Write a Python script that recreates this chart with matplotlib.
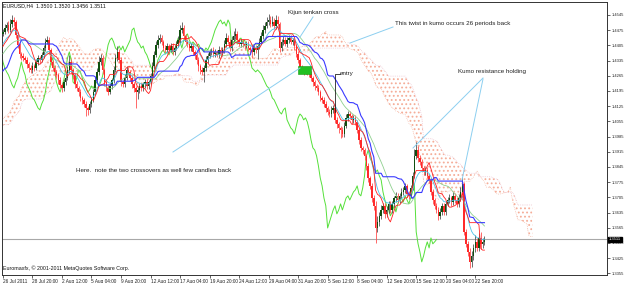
import numpy as np
import pandas as pd
import matplotlib
matplotlib.use("Agg")
import matplotlib.pyplot as plt

plt.rcParams["font.family"] = ["Liberation Sans", "DejaVu Sans"]
plt.rcParams["hatch.linewidth"] = 0.8

# EURUSD H4 closes in pips (1e-4). The hidden bars sit before the visible
# window and only feed the ichimoku / MA calculations.
hidden_close = [
    13923, 13942, 13969, 13997, 14016, 14025, 14062, 14080, 14062, 14043,
    14071, 14098, 14108, 14089, 14071, 14052, 14034, 14062, 14080, 14098,
    14071, 14043, 14062, 14089, 14117, 14135, 14154, 14126, 14108, 14135,
    14172, 14200, 14227, 14246, 14264, 14283, 14338, 14375, 14393, 14384,
    14356, 14338, 14347, 14329, 14338, 14356, 14375, 14393, 14411, 14430,
    14448, 14458,
]
close_pips = [
    14467, 14485, 14499, 14476, 14504, 14522, 14513, 14453, 14407, 14365,
    14356, 14347, 14338, 14319, 14301, 14292, 14310, 14301, 14329, 14347,
    14338, 14361, 14393, 14421, 14430, 14384, 14329, 14301, 14283, 14269,
    14246, 14223, 14209, 14236, 14255, 14292, 14329, 14292, 14269, 14227,
    14209, 14190, 14163, 14154, 14135, 14117, 14108, 14135, 14154, 14190,
    14246, 14283, 14329, 14347, 14292, 14236, 14209, 14190, 14218, 14246,
    14292, 14347, 14375, 14338, 14236, 14227, 14255, 14292, 14283, 14255,
    14227, 14209, 14190, 14200, 14218, 14209, 14227, 14236, 14218, 14236,
    14264, 14310, 14361, 14407, 14430, 14439, 14421, 14393, 14384, 14402,
    14384, 14402, 14375, 14393, 14411, 14430, 14476, 14485, 14448, 14421,
    14411, 14393, 14402, 14375, 14361, 14338, 14310, 14292, 14283, 14301,
    14338, 14356, 14375, 14384, 14365, 14375, 14361, 14384, 14365, 14384,
    14411, 14439, 14421, 14393, 14430, 14448, 14458, 14430, 14411, 14421,
    14411, 14402, 14411, 14393, 14384, 14375, 14393, 14384, 14402, 14421,
    14448, 14476, 14494, 14513, 14522, 14504, 14513, 14494, 14522, 14504,
    14393, 14421, 14430, 14411, 14430, 14439, 14421, 14430, 14402, 14365,
    14338, 14301, 14292, 14283, 14292, 14283, 14273, 14255, 14236, 14218,
    14209, 14190, 14163, 14154, 14135, 14117, 14098, 14089, 14108, 14117,
    14062, 14043, 14025, 14016, 13997, 14034, 14071, 14089, 14080, 14062,
    14071, 14052, 14016, 13969, 13933, 13923, 13896, 13850, 13794, 13758,
    13702, 13666, 13564, 13592, 13620, 13647, 13666, 13629, 13647, 13675,
    13647, 13675, 13702, 13712, 13693, 13712, 13730, 13739, 13758, 13721,
    13712, 13748, 13804, 13896, 13923, 13886, 13868, 13840, 13822, 13831,
    13804, 13785, 13730, 13693, 13666, 13647, 13620, 13638, 13666, 13638,
    13675, 13693, 13702, 13684, 13712, 13693, 13675, 13702, 13730, 13767,
    13546, 13491, 13454, 13408, 13435, 13472, 13500, 13472, 13518, 13491,
    13500, 13511,
]
# upper / lower wick length in pips, hidden bars first
wick_hi = [
    12, 10, 15, 18, 10, 14, 12, 20, 10, 8,
    15, 12, 10, 18, 14, 10, 12, 16, 9, 14,
    10, 12, 15, 8, 14, 11, 10, 16, 12, 10,
    14, 12, 18, 10, 15, 12, 20, 16, 10, 14,
    12, 18, 10, 15, 12, 14, 10, 16, 12, 18,
    14, 12,
    15, 20, 12, 18, 22, 25, 14, 10, 12, 8,
    10, 12, 8, 14, 10, 12, 18, 10, 14, 12,
    10, 14, 12, 16, 20, 12, 10, 8, 12, 10,
    8, 12, 10, 14, 16, 20, 30, 12, 10, 8,
    12, 10, 14, 10, 8, 12, 10, 14, 12, 16,
    14, 20, 25, 18, 12, 10, 8, 14, 12, 10,
    16, 20, 25, 14, 12, 10, 16, 18, 12, 10,
    12, 10, 8, 14, 16, 12, 10, 14, 12, 10,
    14, 20, 18, 16, 22, 18, 12, 10, 14, 12,
    10, 14, 12, 16, 12, 18, 22, 28, 14, 10,
    12, 10, 14, 12, 10, 8, 12, 10, 14, 12,
    16, 12, 14, 10, 12, 14, 10, 16, 12, 14,
    18, 22, 14, 12, 20, 24, 26, 12, 10, 14,
    12, 10, 14, 12, 10, 8, 14, 12, 16, 18,
    20, 22, 18, 24, 26, 20, 28, 16, 25, 20,
    10, 14, 16, 12, 14, 16, 12, 10, 8, 10,
    12, 10, 14, 10, 12, 10, 8, 12, 10, 8,
    10, 12, 8, 10, 12, 14, 10, 12, 16, 14,
    20, 12, 10, 8, 12, 18, 20, 16, 12, 10,
    14, 12, 10, 8, 12, 10, 8, 10, 12, 10,
    12, 14, 20, 25, 18, 22, 14, 12, 16, 14,
    12, 14, 10, 16, 12, 14, 18, 12, 14, 10,
    12, 14, 20, 30, 37, 18, 14, 12, 10, 16,
    12, 10, 8, 12, 10, 14, 12, 16, 14, 12,
    14, 12, 18, 10, 16, 14, 12, 20, 25, 30,
    10, 12, 14, 16, 25, 20, 30, 18, 22, 26,
    20, 18,
]
wick_lo = [
    14, 12, 10, 12, 16, 10, 14, 12, 10, 12,
    10, 14, 12, 10, 16, 12, 14, 10, 12, 10,
    14, 12, 10, 16, 12, 10, 14, 12, 10, 16,
    12, 10, 14, 12, 10, 14, 12, 10, 16, 12,
    10, 14, 12, 16, 10, 12, 14, 10, 12, 10,
    12, 14,
    12, 10, 14, 12, 10, 16, 20, 14, 12, 18,
    16, 14, 12, 18, 20, 16, 14, 12, 10, 14,
    12, 10, 14, 12, 10, 18, 14, 16, 20, 14,
    18, 16, 20, 14, 12, 10, 14, 16, 20, 18,
    16, 18, 14, 20, 16, 37, 22, 14, 12, 10,
    12, 10, 14, 16, 18, 16, 14, 12, 10, 14,
    12, 10, 14, 16, 20, 14, 12, 10, 14, 16,
    18, 20, 74, 30, 16, 14, 12, 16, 14, 12,
    10, 12, 14, 10, 12, 14, 12, 16, 14, 10,
    12, 10, 14, 12, 10, 12, 14, 12, 16, 14,
    12, 14, 12, 16, 18, 20, 22, 18, 16, 46,
    14, 12, 10, 12, 14, 12, 10, 14, 12, 10,
    12, 14, 10, 12, 14, 10, 12, 14, 10, 12,
    14, 12, 10, 14, 16, 30, 12, 14, 40, 12,
    10, 12, 14, 10, 12, 14, 10, 12, 14, 10,
    20, 14, 12, 10, 14, 12, 10, 14, 16, 12,
    14, 12, 10, 14, 12, 16, 14, 12, 16, 18,
    14, 12, 16, 14, 12, 18, 14, 16, 12, 14,
    16, 18, 22, 37, 14, 12, 10, 14, 16, 18,
    14, 12, 16, 18, 14, 16, 18, 20, 16, 14,
    18, 20, 69, 20, 18, 16, 14, 18, 16, 14,
    12, 14, 16, 18, 14, 12, 10, 14, 12, 16,
    14, 12, 10, 12, 14, 16, 14, 12, 16, 14,
    12, 14, 16, 18, 14, 16, 20, 14, 12, 16,
    14, 12, 16, 18, 14, 12, 16, 14, 12, 10,
    16, 14, 20, 28, 22, 18, 20, 16, 14, 24,
    18, 16,
]
time_labels = ["26 Jul 2011", "28 Jul 20:00", "2 Aug 12:00", "5 Aug 04:00",
               "9 Aug 20:00", "12 Aug 12:00", "17 Aug 04:00", "19 Aug 20:00",
               "24 Aug 12:00", "29 Aug 04:00", "31 Aug 20:00", "5 Sep 12:00",
               "8 Sep 04:00", "12 Sep 20:00", "15 Sep 12:00", "20 Sep 04:00",
               "22 Sep 20:00"]
price_ticks = [1.3355, 1.3425, 1.3495, 1.3565, 1.3635, 1.3705, 1.3775, 1.3845,
               1.3915, 1.3985, 1.4055, 1.4125, 1.4195, 1.4265, 1.4335, 1.4405,
               1.4475, 1.4545]
last_price = 1.3511

assert len(wick_hi) == len(wick_lo) == len(hidden_close) + len(close_pips)

c = np.array(hidden_close + close_pips) / 1e4
o = np.r_[c[0], c[:-1]]
h = np.maximum(o, c) + np.array(wick_hi) / 1e4
l = np.minimum(o, c) - np.array(wick_lo) / 1e4
H, L, C = pd.Series(h), pd.Series(l), pd.Series(c)

def mid(n):
    return (H.rolling(n, min_periods=1).max() + L.rolling(n, min_periods=1).min()) / 2

tenkan = mid(9)
kijun = mid(26)
span_a = (tenkan + kijun) / 2
span_b = mid(52)
ema = C.ewm(span=10, adjust=False).mean()
sma = C.rolling(20, min_periods=1).mean()

nh = len(hidden_close)
bar = np.arange(len(c)) - nh
vis = bar >= 0

# pixel helpers (screen 625x283, 1.845 px per bar)
def bx(px):
    return (px - 2) / 1.845 - 0.5

def py(pyy):
    return 1.4545 - (pyy - 15) / 2171

fig = plt.figure(figsize=(6.25, 2.83), dpi=100)
ax = fig.add_axes([2 / 625, 8 / 283, 605 / 625, 273 / 283])
ax.set_xlim(bx(2), bx(607))
ax.set_ylim(py(275), py(2))

# kumo
cx = bar + 26
sel = cx >= 0
salmon = "#f5ad98"
ax.fill_between(cx[sel], span_a[sel], span_b[sel], facecolor="none",
                edgecolor=salmon, hatch="....", linewidth=0, zorder=1)
ax.plot(cx[sel], span_a[sel], color=salmon, lw=0.5, ls=":", zorder=1)
ax.plot(cx[sel], span_b[sel], color="#eab8c8", lw=0.5, ls=":", zorder=1)

ax.axhline(last_price, color="#a8a8a8", lw=0.8, zorder=1)

# candles
xv = bar[vis]
ov, cv, hv, lv = o[vis], c[vis], h[vis], l[vis]
up = cv >= ov
cols = np.where(up, "#0f4f0f", "#ff2a2a")
ax.vlines(xv, lv, hv, colors=np.where(up, "#555555", "#ff5050"), lw=0.6, zorder=3)
body = np.where(np.abs(cv - ov) < 0.0003, 0.0003, cv - ov)
ax.bar(xv, body, bottom=ov, width=0.8, color=cols, linewidth=0, zorder=4)

# indicator lines
ax.plot(bar - 26, c, color="#55e03a", lw=0.7, zorder=2)
ax.plot(xv, sma[vis], color="#8fd08f", lw=0.6, zorder=5)
ax.plot(xv, ema[vis], color="#4cc4e8", lw=0.6, zorder=5)
ax.plot(xv, tenkan[vis], color="#ff2020", lw=0.6, zorder=5)
ax.plot(xv, kijun[vis], color="#3a3aff", lw=0.8, zorder=5)

# entry box
ax.add_patch(plt.Rectangle((bx(298), py(74)), bx(311) - bx(298), py(66) - py(74),
                           facecolor="#22c022", edgecolor="#119911", lw=0.4, zorder=6))

# annotations
note = dict(color="#8ccff0", lw=0.7, zorder=6)
ax.plot([bx(313), bx(300)], [py(17), py(37)], **note)
ax.plot([bx(393), bx(350)], [py(27), py(43)], **note)
ax.plot([bx(483), bx(413)], [py(78), py(148)], **note)
ax.plot([bx(483), bx(462)], [py(79), py(180)], **note)
ax.plot([bx(173), bx(300)], [py(152), py(68)], **note)
ax.plot([bx(335), bx(335), bx(340)], [py(112), py(74), py(74)], color="#222222", lw=0.6, zorder=6)

tk = dict(fontsize=4.5, color="#222222", va="center", ha="left", zorder=7)
ax.text(bx(288), py(13), "Kijun tenkan cross", **tk)
ax.text(bx(395), py(24), "This twist in kumo occurs 26 periods back", **tk)
ax.text(bx(458), py(71), "Kumo resistance holding", **tk)
ax.text(bx(340), py(74), "entry", **tk)
ax.text(bx(76), py(170), "Here.  note the two crossovers as well few candles back", **tk)
ax.text(bx(3), py(6), "EURUSD,H4  1.3500 1.3520 1.3456 1.3511", fontsize=3.8,
        color="#111111", va="center", ha="left")
ax.text(bx(3), py(268), "Euromaxfx, \u00a9 2001-2011 MetaQuotes Software Corp.",
        fontsize=3.8, color="#111111", va="center", ha="left")

# axes styling
for s in ax.spines.values():
    s.set_linewidth(0.7)
    s.set_color("#333333")
ax.yaxis.tick_right()
ax.set_yticks(price_ticks)
ax.set_yticklabels([f"{p:.4f}" for p in price_ticks])
ax.set_xticks(np.arange(len(time_labels)) * 16)
ax.set_xticklabels(time_labels, ha="left")
ax.tick_params(axis="x", labelsize=3.4, length=2, width=0.5, pad=1,
               colors="#222222")
ax.tick_params(axis="y", labelsize=3.0, length=2, width=0.5, pad=1.5,
               colors="#222222")
ax.text(1.003, last_price, f"{last_price:.4f}", transform=ax.get_yaxis_transform(),
        fontsize=3.0, color="white", va="center", ha="left", zorder=8,
        bbox=dict(boxstyle="square,pad=0.2", facecolor="black", edgecolor="black"))

fig.savefig("out.png", dpi=100)
